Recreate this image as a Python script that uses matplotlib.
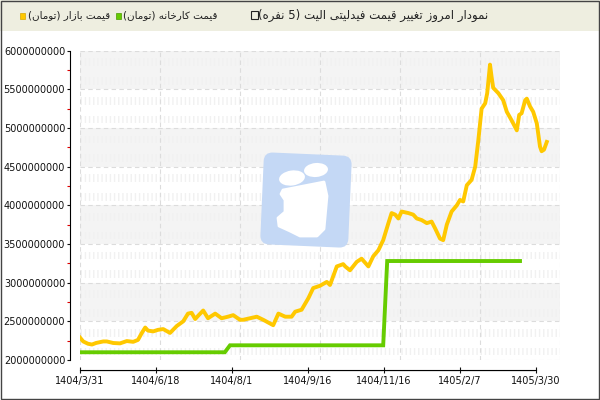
import numpy as np
import matplotlib
matplotlib.use("Agg")
import matplotlib.pyplot as plt
from matplotlib.patches import Rectangle, FancyBboxPatch, Ellipse, Polygon
from matplotlib.transforms import Affine2D

# متن‌ها
title = "نمودار امروز تغییر قیمت فیدلیتی الیت (5 نفره)"
name_market = "قیمت بازار (تومان)"
name_factory = "قیمت کارخانه (تومان)"
x_labels = ["1404/3/31", "1404/6/18", "1404/8/1", "1404/9/16", "1404/11/16", "1405/2/7", "1405/3/30"]
x_label_pos = [0, 19, 38, 57, 76, 95, 114]

# قیمت بازار
market_x = [0, 0.8, 2, 3, 4, 5.8, 6.7, 8.3, 10, 11.7, 13.3, 14.5, 15.4, 16.3, 17, 18.3, 19.5,
            20.8, 22.5, 24.2, 25.8, 27, 27.9, 28.8, 29.5, 30.8, 32, 33.8, 35.4, 37, 38.3, 40,
            40.8, 42.5, 44.2, 45.8, 48.3, 49.6, 51.3, 52.9, 53.8, 55.4, 57.1, 58.3, 60, 61.7,
            62.5, 64.2, 65.8, 66.3, 67.5, 69.2, 70.4, 72.1, 73.3, 74.6, 75.8, 77.1, 77.9, 78.8,
            79.6, 80.4, 82.1, 83.3, 84.2, 85.4, 86.7, 87.9, 88.8, 90, 90.8, 91.7, 92.9, 94.2,
            95, 95.8, 96.7, 97.9, 98.8, 99.6, 100.4, 101.3, 101.8, 102.5, 102.9, 103.3, 104.6,
            105.8, 106.7, 107.9, 109.2, 109.8, 110.4, 111.3, 111.7, 112.5, 113.3, 114.2, 115,
            115.4, 116, 116.7]
market_price = [2.29, 2.24, 2.21, 2.20, 2.22, 2.24, 2.24, 2.22, 2.215, 2.245, 2.235, 2.26, 2.345,
                2.42, 2.38, 2.37, 2.39, 2.40, 2.35, 2.44, 2.50, 2.60, 2.61, 2.53, 2.57, 2.64,
                2.54, 2.60, 2.54, 2.56, 2.58, 2.52, 2.52, 2.54, 2.56, 2.52, 2.45, 2.60, 2.56,
                2.56, 2.625, 2.65, 2.80, 2.93, 2.96, 3.01, 2.97, 3.21, 3.24, 3.21, 3.16, 3.27,
                3.31, 3.21, 3.34, 3.42, 3.55, 3.77, 3.90, 3.88, 3.83, 3.92, 3.90, 3.88, 3.83,
                3.81, 3.77, 3.79, 3.70, 3.57, 3.55, 3.75, 3.92, 4.00, 4.07, 4.05, 4.26, 4.33,
                4.50, 4.85, 5.25, 5.32, 5.45, 5.82, 5.66, 5.52, 5.45, 5.36, 5.21, 5.10, 4.97,
                5.17, 5.19, 5.36, 5.38, 5.28, 5.21, 5.06, 4.76, 4.70, 4.72, 4.82]

# قیمت کارخانه
factory_x = [0, 36.2, 37.5, 75.8, 76.8, 110]
factory_price = [2.10, 2.10, 2.19, 2.19, 3.28, 3.28]

FORMS = {
    'ا': ('\uFE8D', '\uFE8E', None, None),
    'ب': ('\uFE8F', '\uFE90', '\uFE91', '\uFE92'),
    'ت': ('\uFE95', '\uFE96', '\uFE97', '\uFE98'),
    'خ': ('\uFEA5', '\uFEA6', '\uFEA7', '\uFEA8'),
    'د': ('\uFEA9', '\uFEAA', None, None),
    'ر': ('\uFEAD', '\uFEAE', None, None),
    'ز': ('\uFEAF', '\uFEB0', None, None),
    'غ': ('\uFECD', '\uFECE', '\uFECF', '\uFED0'),
    'ف': ('\uFED1', '\uFED2', '\uFED3', '\uFED4'),
    'ق': ('\uFED5', '\uFED6', '\uFED7', '\uFED8'),
    'ل': ('\uFEDD', '\uFEDE', '\uFEDF', '\uFEE0'),
    'م': ('\uFEE1', '\uFEE2', '\uFEE3', '\uFEE4'),
    'ن': ('\uFEE5', '\uFEE6', '\uFEE7', '\uFEE8'),
    'ه': ('\uFEE9', '\uFEEA', '\uFEEB', '\uFEEC'),
    'و': ('\uFEED', '\uFEEE', None, None),
    '\u06CC': ('\uFBFC', '\uFBFD', '\uFBFE', '\uFBFF'),
    '\u06A9': ('\uFB8E', '\uFB8F', '\uFB90', '\uFB91'),
}


# شکل‌دهی حروف و ترتیب راست به چپ
def rtl(s):
    s = s.replace('\u064A', '\u06CC').replace('\u0643', '\u06A9')
    out = []
    for i, c in enumerate(s):
        f = FORMS.get(c)
        if f is None:
            out.append(c)
            continue
        prev = s[i - 1] if i > 0 else ''
        nxt = s[i + 1] if i + 1 < len(s) else ''
        jp = prev in FORMS and FORMS[prev][2] is not None
        jn = f[2] is not None and nxt in FORMS
        if jp and jn:
            out.append(f[3])
        elif jp:
            out.append(f[1])
        elif jn:
            out.append(f[2])
        else:
            out.append(f[0])
    v = ''.join(out)[::-1]
    return v.translate(str.maketrans('()', ')('))


plt.rcParams['font.family'] = ['DejaVu Sans']

fig = plt.figure(figsize=(6, 4), dpi=100)
fig.patch.set_facecolor('white')
# pixel coords from top-left
px = Affine2D().scale(1 / 600, -1 / 400).translate(0, 1) + fig.transFigure

# نوار عنوان
fig.patches.append(Rectangle((0, 0), 600, 31, transform=px, facecolor='#eeeee0', edgecolor='none', zorder=0))
fig.patches.append(Rectangle((0.5, 0.5), 598.5, 398.5, transform=px, facecolor='none', edgecolor='#444444', lw=1, zorder=5))

fig.patches.append(Rectangle((20, 13), 5, 6, transform=px, facecolor='#ffc800', edgecolor='#d9a800', lw=0.5))
fig.text(28 / 600, 1 - 15 / 400, rtl(name_market), fontsize=7.5, va='center', ha='left', color='#222222')
fig.patches.append(Rectangle((116, 13), 5, 6, transform=px, facecolor='#66cc00', edgecolor='#4a9a00', lw=0.5))
fig.text(123 / 600, 1 - 15 / 400, rtl(name_factory), fontsize=7.5, va='center', ha='left', color='#222222')
fig.patches.append(Rectangle((251, 11), 7, 8, transform=px, facecolor='none', edgecolor='#222222', lw=0.8))
fig.text(258 / 600, 1 - 15 / 400, rtl(title), fontsize=8.5, va='center', ha='left', color='#222222')

ax = fig.add_axes([80 / 600, 1 - 360 / 400, 480 / 600, 309.3 / 400])
ax.set_facecolor('white')

# نوارهای پس‌زمینه
for lo in [2.5e9, 3.5e9, 4.5e9, 5.5e9]:
    ax.axhspan(lo, lo + 5e8, facecolor='#f4f4f4', edgecolor='none', zorder=0)
for lo in np.arange(2.0e9, 6.0e9, 5e8):
    ax.axhspan(lo + 0.6e8, lo + 1.6e8, facecolor='none', edgecolor='#f1f1f1', hatch='||||', lw=0, zorder=0.2)
    ax.axhspan(lo + 3.0e8, lo + 4.0e8, facecolor='none', edgecolor='#f1f1f1', hatch='||||', lw=0, zorder=0.2)

for gy in np.arange(2.0e9, 6.01e9, 5e8):
    ax.axhline(gy, color='#dcdcdc', lw=0.8, ls=(0, (4, 3)), zorder=0.5)
for gx in range(0, 121, 20):
    ax.axvline(gx, color='#dcdcdc', lw=0.8, ls=(0, (4, 3)), zorder=0.5)

# لوگو
rot = Affine2D().rotate_deg_around(305, 200, 2.5)
logo = FancyBboxPatch((262, 154), 88, 92, boxstyle='round,pad=0,rounding_size=9',
                      transform=rot + px, facecolor='#c4d8f5', edgecolor='none', zorder=1, clip_on=False)
ax.add_patch(logo)
ax.add_patch(Ellipse((292, 178), 26, 15, angle=-8, transform=px, facecolor='white', edgecolor='none', zorder=1.1, clip_on=False))
ax.add_patch(Ellipse((316, 170), 24, 14, angle=-5, transform=px, facecolor='white', edgecolor='none', zorder=1.1, clip_on=False))
ax.add_patch(Polygon([(283, 190), (324, 182), (327, 196), (324, 229), (317, 236), (300, 236),
                      (290, 231), (279, 226), (278, 218), (285, 212), (285, 200), (281, 194)],
                     transform=px, facecolor='white', edgecolor='white', lw=2, joinstyle='round',
                     zorder=1.1, clip_on=False))

ax.plot(factory_x, np.array(factory_price) * 1e9, color='#66cc00', lw=2.8, zorder=3, solid_joinstyle='miter')
ax.plot(market_x, np.array(market_price) * 1e9, color='#ffc800', lw=2.8, zorder=4, solid_joinstyle='round')

ax.set_xlim(0, 120)
ax.set_ylim(2e9, 6e9)

for s in ['top', 'right']:
    ax.spines[s].set_visible(False)
ax.spines['left'].set_position(('outward', 7.2))
ax.spines['bottom'].set_position(('outward', 7.2))
ax.spines['left'].set_bounds(2e9, 6e9)
ax.spines['bottom'].set_bounds(0, 114)
ax.spines['left'].set_linewidth(0.8)
ax.spines['bottom'].set_linewidth(0.8)

ax.set_yticks(np.arange(2e9, 6.01e9, 5e8))
ax.set_yticklabels(['%d' % v for v in np.arange(2000000000, 6000000001, 500000000)])
ax.set_yticks(np.arange(2.25e9, 6e9, 5e8), minor=True)
ax.tick_params(axis='y', which='major', length=2.5, width=0.8, direction='out', labelsize=7, pad=1, colors='#111111')
ax.tick_params(axis='y', which='minor', length=2.5, width=0.8, direction='out', color='#e00000')

ax.set_xticks(x_label_pos)
ax.set_xticklabels(x_labels)
ax.set_xticks(np.arange(0, 114.1, 0.5), minor=True)
ax.tick_params(axis='x', which='major', length=5, width=0.8, direction='inout', labelsize=7, pad=2, colors='#111111')
ax.tick_params(axis='x', which='minor', length=1.5, width=0.3, direction='out', color='#aaaaaa')

fig.savefig('out.png', dpi=100)
